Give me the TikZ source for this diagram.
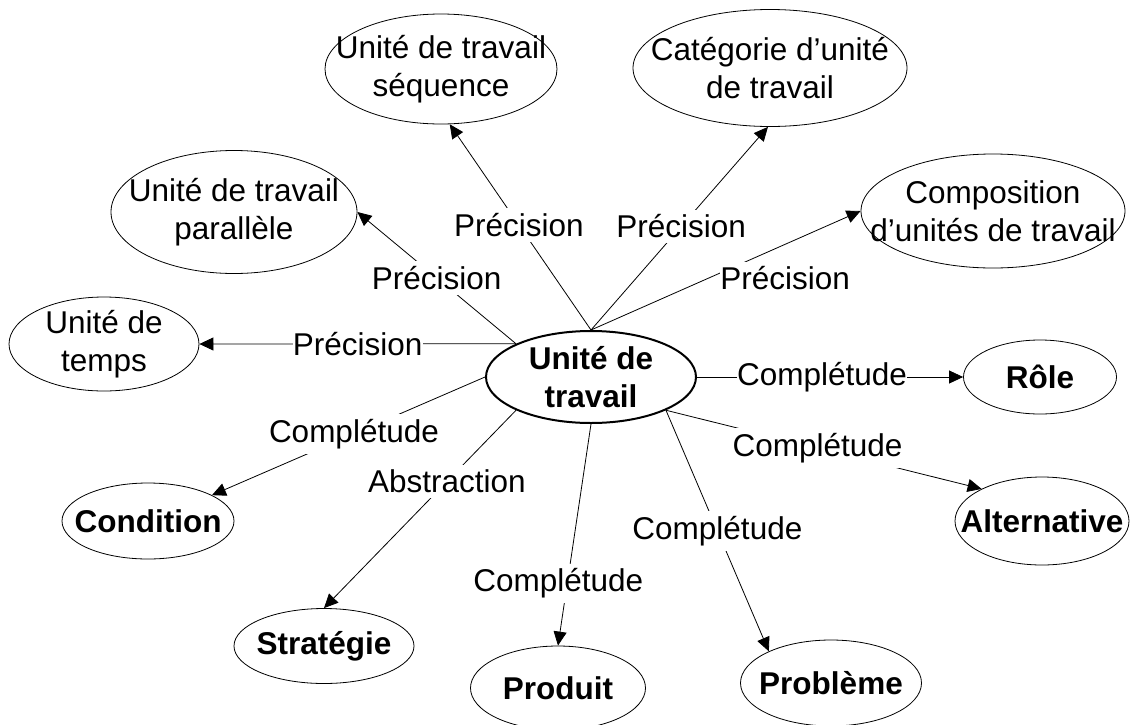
\documentclass[tikz,border=0pt]{standalone}
\usepackage{fontspec}
\setmainfont{Liberation Sans}
\usetikzlibrary{shapes.geometric, arrows.meta}

\begin{document}
\begin{tikzpicture}[x=0.5pt, y=-0.5pt,
  bulle/.style 2 args={ellipse, draw, line width=0.4pt, minimum width=#1pt, minimum height=#2pt, inner sep=0pt},
  txt/.style={align=center, inner sep=0pt, font=\fontsize{15.75}{19}\selectfont},
  txtb/.style={align=center, inner sep=0pt, font=\fontsize{15.75}{19}\selectfont\bfseries},
  fleche/.style={-{Triangle[length=7pt, width=6.5pt]}, line width=0.4pt},
  etiq/.style={fill=white, inner xsep=0pt, inner ysep=2.5pt, font=\fontsize{15.75}{19}\selectfont}]

\useasboundingbox[fill=white] (0,0) rectangle (1131,724);

\node[bulle={105}{46}, line width=1pt, label={[txtb]center:Unité de\\travail}] (ut) at (591,377) {};

\node[bulle={116}{55}, label={[txt]center:Unité de travail\\séquence}] (seq) at (441,69) {};
\node[bulle={137}{58.5}, label={[txt]center:Catégorie d’unité\\de travail}] (cat) at (770,68) {};
\node[bulle={123}{61.5}, label={[txt]center:Unité de travail\\parallèle}] (par) at (234,212) {};
\node[bulle={132}{57}, label={[txt]center:Composition\\d’unités de travail}] (compo) at (993,211) {};
\node[bulle={95}{47}, label={[txt]center:Unité de\\temps}] (temps) at (104,344) {};
\node[bulle={76.5}{37}, label={[txtb]center:Rôle}] (role) at (1040,377) {};
\node[bulle={86}{38}, label={[txtb]center:Condition}] (cond) at (148,521) {};
\node[bulle={87}{44}, label={[txtb]center:Alternative}] (alt) at (1042,521) {};
\node[bulle={90}{37.5}, label={[txtb]center:Stratégie}] (strat) at (324,646) {};
\node[bulle={87.5}{42}, label={[txtb]center:Produit}] (prod) at (558,688) {};
\node[bulle={90.5}{43}, label={[txtb]center:Problème}] (prob) at (831,683) {};

\draw[fleche] (ut.north) -- node[etiq, pos=.51] (e1) {Précision} (seq.-81);
\draw[fleche] (ut.north) -- node[etiq, pos=.51] (e2) {Précision} (cat.-92);
\draw[fleche] (ut.north) -- node[etiq, pos=.72, yshift=-17pt] (e3) {Précision} (compo.west);
\draw[fleche] (ut.north west) -- node[etiq, pos=.5] (e4) {Précision} (par.east);
\draw[fleche] (ut.north west) -- node[etiq, pos=.5] (e5) {Précision} (temps.east);
\draw[fleche] (ut.east) -- node[etiq, pos=.47] (e6) {Complétude} (role.west);
\draw[fleche] (ut.south east) -- node[etiq, pos=.48] (e7) {Complétude} (alt.152);
\draw[fleche] (ut.south east) -- node[etiq, pos=.5] (e8) {Complétude} (prob.153);
\draw[fleche] (ut.south) -- node[etiq, pos=.72, xshift=-4.5pt] (e9) {Complétude} (prod.north);
\draw[fleche] (ut.south west) -- node[etiq, pos=.36] (e10) {Abstraction} (strat.north);
\draw[fleche] (ut.west) -- node[etiq, pos=.48] (e11) {Complétude} (cond.22);
\end{tikzpicture}
\end{document}
